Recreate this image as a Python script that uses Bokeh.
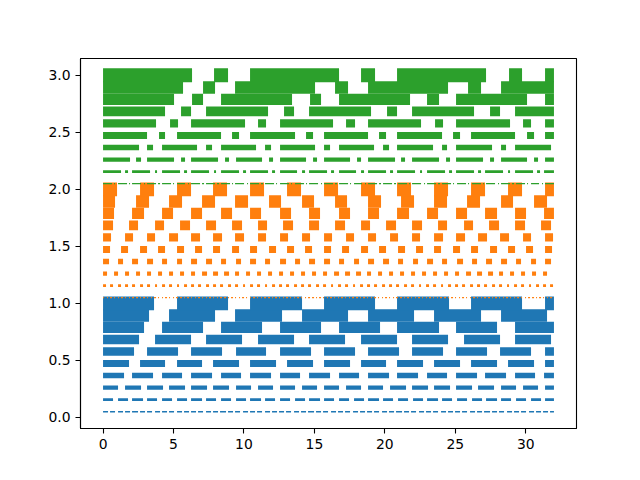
from bokeh.plotting import figure
from bokeh.models import Range1d, FixedTicker, PrintfTickFormatter, ColumnDataSource
from bokeh.embed import file_html
from bokeh.resources import INLINE

# ---- data ----
x_span = [0, 32]
line_levels = [0.05, 0.156, 0.261, 0.367, 0.472, 0.578, 0.683, 0.789, 0.894, 1.0]
line_widths_pt = [1, 2, 3, 4, 5, 6, 7, 8, 9, 10]
group_offsets = [0, 1, 2]
group_styles = ["dashed", "dotted", "dashdot"]
group_colors = ["#1f77b4", "#ff7f0e", "#2ca02c"]
x_ticks = [0, 5, 10, 15, 20, 25, 30]
y_ticks = [0.0, 0.5, 1.0, 1.5, 2.0, 2.5, 3.0]

# ---- styling helpers (matplotlib-like dash patterns scaled by width) ----
PX_PER_PT = 100 / 72
BASE_PATTERNS = {
    "dashed": [3.7, 1.6],
    "dotted": [1.0, 1.65],
    "dashdot": [6.4, 1.6, 1.0, 1.6],
}


def dash_string(style, lw_pt, repeats=12):
    seg = [b * lw_pt * PX_PER_PT for b in BASE_PATTERNS[style]] * repeats
    out = []
    cum = 0.0
    prev = 0
    for s in seg:
        cum += s
        r = int(round(cum))
        d = max(1, r - prev)
        out.append(d)
        prev += d
    return " ".join(str(v) for v in out)


p = figure(
    frame_width=496, frame_height=370,
    min_border_left=80, min_border_right=48,
    min_border_top=58, min_border_bottom=36,
    x_range=Range1d(-1.6, 33.6), y_range=Range1d(-0.0975, 3.1475),
    output_backend="svg", toolbar_location=None,
)

for off, style, color in zip(group_offsets, group_styles, group_colors):
    for lvl, lw in zip(line_levels, line_widths_pt):
        src = ColumnDataSource(dict(x=x_span, y=[off + lvl] * len(x_span)))
        p.line("x", "y", source=src, line_color=color,
               line_width=lw * PX_PER_PT, line_dash=dash_string(style, lw),
               line_cap="butt")

p.grid.visible = False
p.background_fill_color = "white"
p.border_fill_color = "white"
p.outline_line_color = "black"
p.outline_line_width = 1.1
p.outline_line_alpha = 1.0

p.xaxis.ticker = FixedTicker(ticks=x_ticks)
p.yaxis.ticker = FixedTicker(ticks=y_ticks)
p.yaxis.formatter = PrintfTickFormatter(format="%.1f")
for ax in (p.xaxis, p.yaxis):
    ax.axis_line_color = "black"
    ax.axis_line_width = 1.1
    ax.major_tick_in = 0
    ax.major_tick_out = 5
    ax.major_tick_line_width = 1.1
    ax.major_tick_line_color = "black"
    ax.minor_tick_line_color = None
    ax.major_label_text_font = "DejaVu Sans"
    ax.major_label_text_font_size = "13.9px"
    ax.major_label_text_color = "black"
    ax.major_label_standoff = 5

open("out.html", "w").write(file_html(p, INLINE))
